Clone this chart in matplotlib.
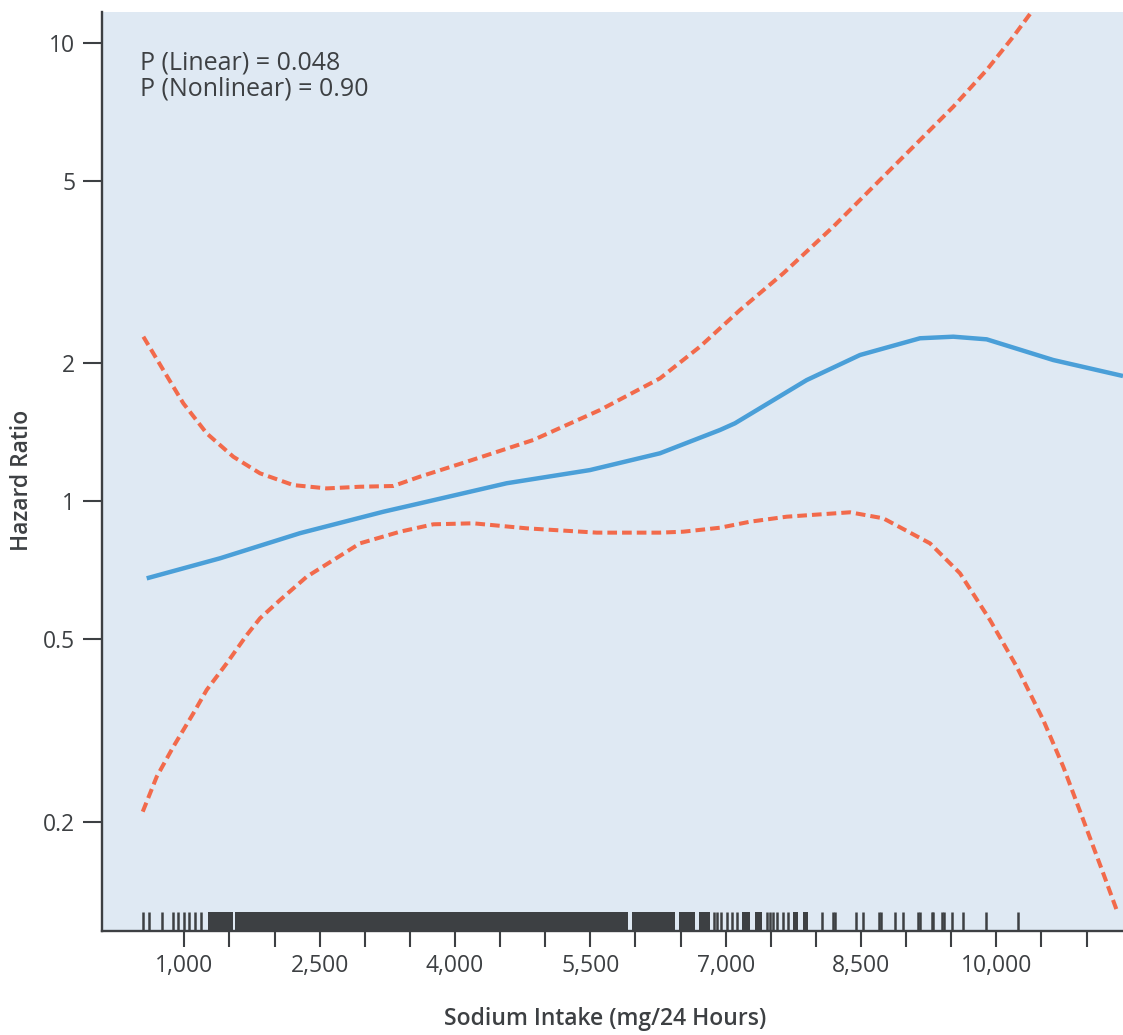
import matplotlib
matplotlib.use("Agg")
import matplotlib.pyplot as plt

plt.rcParams['font.family'] = ['Open Sans', 'DejaVu Sans']

# ---------------- data ----------------
hr_x = [583, 1396, 2282, 3206, 3612, 4573, 5496, 6272, 6937, 7103, 7898,
        8489, 9154, 9523, 9893, 10631, 11404]
hr_y = [0.679, 0.751, 0.852, 0.949, 0.990, 1.095, 1.170, 1.273, 1.431, 1.480,
        1.839, 2.086, 2.269, 2.287, 2.257, 2.034, 1.877]

upper_x = [546, 767, 989, 1248, 1543, 1839, 2208, 2578, 2947, 3316, 3612,
           4130, 4868, 5607, 6272, 6715, 7159, 7639, 8193, 8636, 9080, 9523,
           9893, 10188, 10392, 10539]
upper_y = [2.287, 1.934, 1.636, 1.407, 1.251, 1.151, 1.085, 1.067, 1.076,
           1.080, 1.132, 1.220, 1.361, 1.582, 1.855, 2.175, 2.615, 3.145,
           3.976, 4.860, 5.941, 7.264, 8.737, 10.33, 11.71, 12.8]

lower_x = [539, 694, 878, 1100, 1248, 1470, 1692, 1839, 2061, 2357, 2947,
           3391, 3760, 4203, 4795, 5571, 6272, 6530, 6937, 7270, 7676, 8378,
           8747, 9265, 9597, 9930, 10226, 10520, 10742, 10964, 11185, 11334]
lower_y = [0.2102, 0.2506, 0.2913, 0.3446, 0.3876, 0.4431, 0.5107, 0.5555,
           0.6090, 0.6846, 0.8096, 0.8584, 0.8909, 0.8954, 0.8730, 0.8543,
           0.8543, 0.8584, 0.8757, 0.9026, 0.9256, 0.9463, 0.9181, 0.8096,
           0.6965, 0.5507, 0.4356, 0.3332, 0.2635, 0.2016, 0.1542, 0.1282]

# rug: dense stretches (start, end) and single observations
rug_blocks = [(1266, 1540), (1562, 5921), (5959, 6438), (6483, 6660),
              (6708, 6827), (7178, 7270), (7325, 7399), (7749, 7805),
              (7854, 7916)]
rug_ticks = [546, 612, 750, 871, 933, 1000, 1052, 1119, 1185,
             6870, 6900, 6948, 7011, 7067, 7122, 7455, 7491, 7528, 7571,
             7630, 7694, 8073, 8190, 8215, 8442, 8525, 8703, 8718, 8877,
             8969, 9135, 9154, 9283, 9301, 9394, 9419, 9507, 9629, 9885,
             10236]

x_ticks = [1000, 1500, 2000, 2500, 3000, 3500, 4000, 4500, 5000, 5500, 6000,
           6500, 7000, 7500, 8000, 8500, 9000, 9500, 10000, 10500, 11000]
x_tick_labels = ["1,000", "", "", "2,500", "", "", "4,000", "", "", "5,500",
                 "", "", "7,000", "", "", "8,500", "", "", "10,000", "", ""]
y_ticks = [0.2, 0.5, 1, 2, 5, 10]
y_tick_labels = ["0.2", "0.5", "1", "2", "5", "10"]

# ---------------- style ----------------
BG = '#dfe9f3'
DARK = '#3d4043'
BLUE = '#4a9fd8'
RED = '#f26a4b'

fig = plt.figure(figsize=(11.23, 10.35), dpi=100)
ax = fig.add_axes([0.09127, 0.10048, 0.90873, 0.88821])
ax.set_facecolor(BG)
ax.set_yscale('log')
ax.set_xlim(93, 11404)
ax.set_ylim(0.1154, 11.71)

ax.plot(hr_x, hr_y, color=BLUE, lw=3.2, solid_capstyle='butt',
        solid_joinstyle='round', zorder=3)
ax.plot(upper_x, upper_y, color=RED, lw=2.9, linestyle=(0, (2.4, 1.25)),
        zorder=3)
ax.plot(lower_x, lower_y, color=RED, lw=2.9, linestyle=(0, (2.4, 1.25)),
        zorder=3)

rug_h = 0.021
for s, e in rug_blocks:
    ax.axvspan(s, e, ymin=0, ymax=rug_h, color=DARK, lw=0, zorder=2)
ax.vlines(rug_ticks, 0, rug_h, transform=ax.get_xaxis_transform(),
          colors=DARK, lw=1.8, zorder=2)

for side in ('top', 'right'):
    ax.spines[side].set_visible(False)
for side in ('left', 'bottom'):
    ax.spines[side].set_color(DARK)
    ax.spines[side].set_linewidth(1.7)

ax.set_xticks(x_ticks)
ax.set_xticklabels(x_tick_labels)
ax.set_yticks(y_ticks)
ax.set_yticklabels(y_tick_labels)
ax.yaxis.set_minor_locator(matplotlib.ticker.NullLocator())
ax.xaxis.set_minor_locator(matplotlib.ticker.NullLocator())
ax.tick_params(axis='x', length=11.5, width=1.5, color=DARK, pad=5,
               labelsize=16.5, labelcolor=DARK)
ax.tick_params(axis='y', length=13.5, width=1.5, color=DARK, pad=6,
               labelsize=16.5, labelcolor=DARK)

ax.set_xlabel('Sodium Intake (mg/24 Hours)', fontsize=16.5,
              fontweight='semibold', color=DARK)
ax.xaxis.label.set_verticalalignment('center')
ax.xaxis.set_label_coords(0.493, -0.0957)

ax.set_ylabel('Hazard Ratio', fontsize=16.5, fontweight='semibold',
              color=DARK)
ax.yaxis.label.set_verticalalignment('center')
ax.yaxis.set_label_coords(-0.0789, 0.4906)

ax.text(0.0367, 0.958, 'P (Linear) = 0.048\nP (Nonlinear) = 0.90',
        transform=ax.transAxes, ha='left', va='top', fontsize=18,
        color=DARK, linespacing=1.05)

fig.savefig('out.png', dpi=100, facecolor='white')
